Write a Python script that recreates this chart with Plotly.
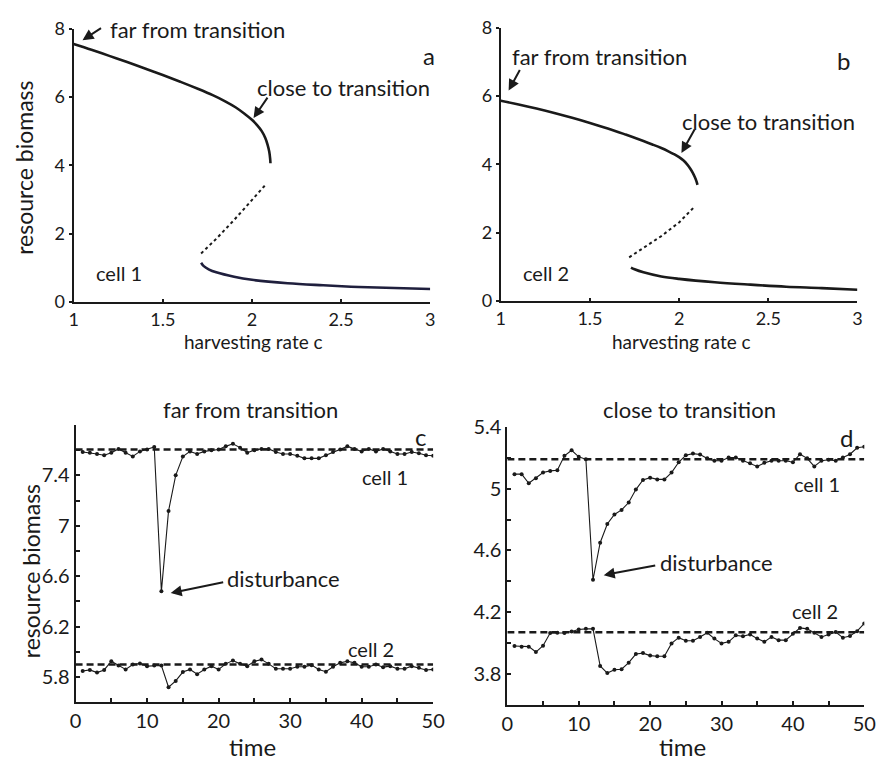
import plotly.graph_objects as go

# ---------------- data ----------------
# panel a (cell 1) bifurcation branches
a_up_c = [1.00, 1.10, 1.20, 1.30, 1.40, 1.50, 1.60, 1.70, 1.78, 1.85, 1.91, 1.96, 2.00, 2.03, 2.055, 2.075, 2.088, 2.097, 2.102, 2.104]
a_up_x = [7.55, 7.38, 7.20, 7.02, 6.83, 6.64, 6.44, 6.23, 6.05, 5.87, 5.69, 5.50, 5.33, 5.17, 5.00, 4.80, 4.60, 4.40, 4.20, 4.06]
a_mid_c = [1.715, 1.80, 1.90, 2.00, 2.08]
a_mid_x = [1.42, 1.85, 2.40, 2.98, 3.45]
a_lo_c = [1.715, 1.73, 1.76, 1.80, 1.90, 2.00, 2.20, 2.40, 2.60, 2.80, 3.00]
a_lo_x = [1.15, 1.05, 0.95, 0.87, 0.74, 0.65, 0.55, 0.49, 0.44, 0.41, 0.38]

# panel b (cell 2)
b_up_c = [1.00, 1.10, 1.20, 1.30, 1.40, 1.50, 1.60, 1.70, 1.80, 1.85, 1.90, 1.94, 1.97, 2.00, 2.025, 2.045, 2.062, 2.076, 2.088, 2.097, 2.103]
b_up_x = [5.86, 5.75, 5.63, 5.50, 5.36, 5.21, 5.05, 4.87, 4.68, 4.58, 4.475, 4.38, 4.30, 4.21, 4.11, 4.00, 3.88, 3.76, 3.63, 3.51, 3.40]
b_mid_c = [1.72, 1.80, 1.90, 2.00, 2.09]
b_mid_x = [1.28, 1.55, 1.90, 2.30, 2.78]
b_lo_c = [1.73, 1.75, 1.80, 1.90, 2.00, 2.20, 2.40, 2.60, 2.80, 3.00]
b_lo_x = [0.98, 0.93, 0.84, 0.72, 0.65, 0.55, 0.48, 0.42, 0.38, 0.33]

# time series
time = list(range(1, 51))
c_cell1 = [7.585, 7.58, 7.57, 7.56, 7.58, 7.61, 7.58, 7.55, 7.59, 7.605,
           7.625, 6.48, 7.118, 7.40, 7.549, 7.59, 7.57, 7.59, 7.60, 7.605,
           7.63, 7.65, 7.62, 7.58, 7.60, 7.61, 7.61, 7.585, 7.57, 7.57,
           7.555, 7.535, 7.535, 7.535, 7.56, 7.585, 7.605, 7.63, 7.61, 7.59,
           7.61, 7.59, 7.61, 7.59, 7.57, 7.57, 7.585, 7.575, 7.56, 7.555]
c_cell2 = [5.849, 5.857, 5.836, 5.857, 5.926, 5.892, 5.861, 5.90, 5.908, 5.887,
           5.892, 5.892, 5.72, 5.77, 5.84, 5.861, 5.823, 5.861, 5.887, 5.861,
           5.905, 5.931, 5.905, 5.887, 5.926, 5.939, 5.905, 5.866, 5.866, 5.866,
           5.882, 5.882, 5.895, 5.861, 5.843, 5.882, 5.913, 5.926, 5.913, 5.882,
           5.882, 5.90, 5.879, 5.887, 5.866, 5.866, 5.887, 5.874, 5.857, 5.861]
d_cell1 = [5.094, 5.094, 5.035, 5.067, 5.104, 5.115, 5.119, 5.2125, 5.248, 5.206,
           5.19, 4.41, 4.65, 4.771, 4.833, 4.8625, 4.91, 4.994, 5.056, 5.071,
           5.06, 5.06, 5.104, 5.171, 5.217, 5.227, 5.221, 5.196, 5.181, 5.181,
           5.202, 5.202, 5.181, 5.165, 5.144, 5.167, 5.181, 5.181, 5.181, 5.171,
           5.223, 5.196, 5.144, 5.181, 5.1875, 5.181, 5.202, 5.223, 5.265, 5.271]
d_cell2 = [3.981, 3.977, 3.977, 3.942, 3.983, 4.065, 4.067, 4.065, 4.075, 4.0875,
           4.092, 4.092, 3.852, 3.806, 3.827, 3.831, 3.873, 3.929, 3.935, 3.919,
           3.915, 3.915, 3.998, 4.035, 4.015, 4.015, 4.04, 4.067, 4.029, 3.998,
           4.008, 4.05, 4.044, 4.056, 4.029, 4.008, 4.04, 4.019, 4.019, 4.06,
           4.098, 4.092, 4.067, 4.04, 4.056, 4.071, 4.035, 4.046, 4.077, 4.127]
c_eq = [7.605, 5.90]
d_eq = [5.19, 4.07]
t_span = [0, 50]

ab_xticks = [1, 1.5, 2, 2.5, 3]
ab_xtext = ["1", "1.5", "2", "2.5", "3"]
ab_yticks = [0, 2, 4, 6, 8]
cd_xticks = list(range(0, 51, 5))
cd_xtext = [str(v) if v % 10 == 0 else "" for v in cd_xticks]
c_yticks = [5.6, 5.8, 6.0, 6.2, 6.4, 6.6, 6.8, 7.0, 7.2, 7.4, 7.6, 7.8]
c_ytext = ["", "5.8", "", "6.2", "", "6.6", "", "7", "", "7.4", "", ""]
d_yticks = [3.6, 3.8, 4.0, 4.2, 4.4, 4.6, 4.8, 5.0, 5.2, 5.4]
d_ytext = ["", "3.8", "", "4.2", "", "4.6", "", "5", "", "5.4"]

# ---------------- figure ----------------
W, H = 890, 765
FONT = "Lato"
INK = "#1a1a1a"


def P(px, py):
    return px / W, 1 - py / H


fig = go.Figure()

solid = dict(color=INK, width=2.6)
dotted = dict(color=INK, width=2, dash="dot")

fig.add_trace(go.Scatter(x=a_up_c, y=a_up_x, mode="lines", line=dict(solid, shape="spline", smoothing=1), xaxis="x", yaxis="y"))
fig.add_trace(go.Scatter(x=a_mid_c, y=a_mid_x, mode="lines", line=dotted, xaxis="x", yaxis="y"))
fig.add_trace(go.Scatter(x=a_lo_c, y=a_lo_x, mode="lines", line=dict(color="#1f1f3d", width=2.6, shape="spline"), xaxis="x", yaxis="y"))

fig.add_trace(go.Scatter(x=b_up_c, y=b_up_x, mode="lines", line=dict(solid, shape="spline", smoothing=1), xaxis="x2", yaxis="y2"))
fig.add_trace(go.Scatter(x=b_mid_c, y=b_mid_x, mode="lines", line=dotted, xaxis="x2", yaxis="y2"))
fig.add_trace(go.Scatter(x=b_lo_c, y=b_lo_x, mode="lines", line=dict(solid, shape="spline"), xaxis="x2", yaxis="y2"))

dash_line = dict(color=INK, width=2.6, dash="7px,4px")
ts_line = dict(color=INK, width=1.1)
ts_marker = dict(color=INK, size=4)

for eq in c_eq:
    fig.add_trace(go.Scatter(x=t_span, y=[eq, eq], mode="lines", line=dash_line, xaxis="x3", yaxis="y3"))
for series in (c_cell1, c_cell2):
    fig.add_trace(go.Scatter(x=time, y=series, mode="lines+markers", line=ts_line, marker=ts_marker, xaxis="x3", yaxis="y3"))

for eq in d_eq:
    fig.add_trace(go.Scatter(x=t_span, y=[eq, eq], mode="lines", line=dash_line, xaxis="x4", yaxis="y4"))
for series in (d_cell1, d_cell2):
    fig.add_trace(go.Scatter(x=time, y=series, mode="lines+markers", line=ts_line, marker=ts_marker, xaxis="x4", yaxis="y4"))

axis_common = dict(showline=True, linecolor=INK, linewidth=2, showgrid=False, zeroline=False,
                   ticks="outside", ticklen=3, tickwidth=1.5, tickcolor=INK)

fig.update_layout(
    width=W, height=H, margin=dict(l=0, r=0, t=0, b=0),
    paper_bgcolor="white", plot_bgcolor="white", showlegend=False,
    font=dict(family=FONT, color=INK),
    xaxis=dict(axis_common, domain=[69 / W, 433 / W], range=[1, 3], tickvals=ab_xticks,
               ticktext=ab_xtext, ticks="inside", anchor="y", tickfont=dict(size=18)),
    yaxis=dict(axis_common, domain=[1 - 298 / H, 1 - 16 / H], range=[0, 8], tickvals=ab_yticks,
               anchor="x", tickfont=dict(size=18)),
    xaxis2=dict(axis_common, domain=[505 / W, 869 / W], range=[1, 3], tickvals=ab_xticks,
                ticktext=ab_xtext, ticks="inside", anchor="y2", tickfont=dict(size=18)),
    yaxis2=dict(axis_common, domain=[1 - 297 / H, 1 - 15 / H], range=[0, 8], tickvals=ab_yticks,
                anchor="x2", tickfont=dict(size=18)),
    xaxis3=dict(axis_common, domain=[71 / W, 436 / W], range=[0, 50], tickvals=cd_xticks,
                ticktext=cd_xtext, ticks="inside", ticklen=4, anchor="y3", tickfont=dict(size=20)),
    yaxis3=dict(axis_common, domain=[1 - 710.7 / H, 1 - 424.7 / H], range=[5.6, 7.8], tickvals=c_yticks,
                ticktext=c_ytext, ticks="inside", ticklen=4, anchor="x3", tickfont=dict(size=20)),
    xaxis4=dict(axis_common, domain=[511.7 / W, 876 / W], range=[0, 50], tickvals=cd_xticks,
                ticktext=cd_xtext, ticks="inside", ticklen=4, anchor="y4", tickfont=dict(size=20)),
    yaxis4=dict(axis_common, domain=[1 - 713.3 / H, 1 - 426.7 / H], range=[3.6, 5.4], tickvals=d_yticks,
                ticktext=d_ytext, ticks="inside", ticklen=4, anchor="x4", tickfont=dict(size=20)),
)

ann = []


def text(px, py, s, size, **kw):
    x, y = P(px, py)
    ann.append(dict(x=x, y=y, xref="paper", yref="paper", text=s, showarrow=False,
                    font=dict(family=FONT, size=size, color=INK), xanchor="center", yanchor="middle", **kw))


def arrow(xr, yr, hx, hy, ax, ay):
    ann.append(dict(x=hx, y=hy, xref=xr, yref=yr, ax=ax, ay=ay, text="", showarrow=True,
                    arrowhead=2, arrowsize=1.1, arrowwidth=2, arrowcolor=INK))


# panel a
text(195, 17, "far from transition", 22)
text(344, 77, "close to transition", 22)
text(432, 44, "a", 24)
text(115, 268, "cell 1", 20)
text(253, 339, "harvesting rate c", 19)
text(19, 160, "resource biomass", 23, textangle=-90)
arrow("x", "y", 1.05, 7.66, 20, -13)
arrow("x", "y", 2.009, 5.38, 15, -22)

# panel b
text(606, 45, "far from transition", 22)
text(778, 112, "close to transition", 22)
text(855, 49, "b", 24)
text(551, 268, "cell 2", 20)
text(689, 339, "harvesting rate c", 19)
arrow("x2", "y2", 1.044, 6.16, 12, -22)
arrow("x2", "y2", 2.013, 4.33, 14, -25)

# panel c
text(250, 409, "far from transition", 22)
text(423, 437, "c", 24)
text(387, 478, "cell 1", 20)
text(373, 656, "cell 2", 20)
text(283, 583, "disturbance", 22)
text(252, 756, "time", 24)
text(25, 575, "resource biomass", 23, textangle=-90)
arrow("x3", "y3", 13.3, 6.467, 54, -11)

# panel d
text(698, 409, "close to transition", 22)
text(858, 438, "d", 24)
text(828, 486, "cell 1", 20)
text(826, 617, "cell 2", 20)
text(725, 567, "disturbance", 22)
text(690, 756, "time", 24)
arrow("x4", "y4", 13.5, 4.44, 53, -10)

fig.update_layout(annotations=ann)
fig.write_html("out.html")
